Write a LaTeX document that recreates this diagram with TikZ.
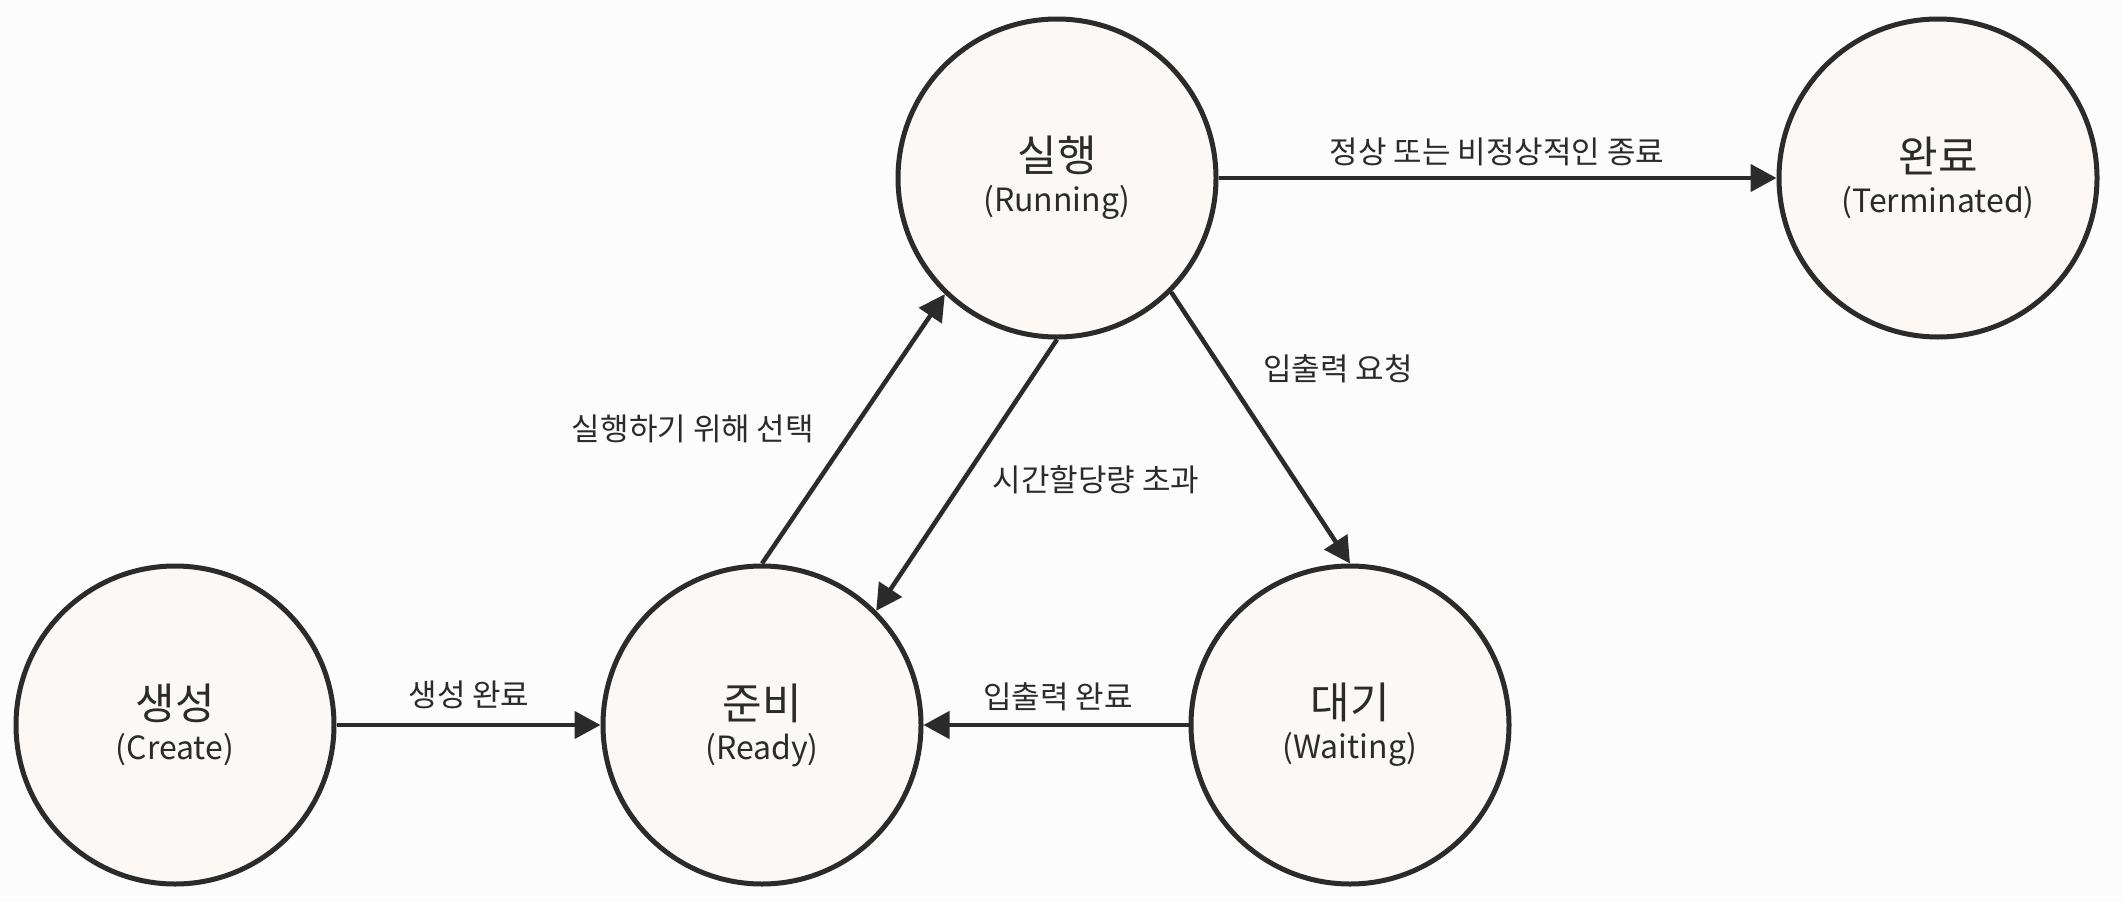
\documentclass[tikz,border=0pt]{standalone}
\usepackage{fontspec}
\setmainfont{Noto Sans CJK KR}
\usetikzlibrary{arrows.meta}
\definecolor{ink}{HTML}{2B2B2B}
\definecolor{fillc}{HTML}{FBF8F5}
\definecolor{bg}{HTML}{FCFCFC}
\begin{document}
\begin{tikzpicture}[x=1pt,y=-1pt,
  state/.style={circle, draw=ink, line width=5pt, fill=fillc, minimum size=318pt, inner sep=0pt, align=center, text=ink, font=\fontsize{32}{40}\selectfont},
  conn/.style={draw=ink, line width=4.5pt, -{Triangle[length=26pt,width=27pt]}},
  lbl/.style={font=\fontsize{31}{36}\selectfont, text=ink, inner sep=0pt}]
\fill[bg] (0,0) rectangle (2122,902);
\useasboundingbox (0,0) rectangle (2122,902);
\newcommand{\st}[2]{{\fontsize{43}{40}\selectfont #1}\\#2}
\node[state] (create) at (175,725) {\st{생성}{(Create)}};
\node[state] (ready) at (762,725) {\st{준비}{(Ready)}};
\node[state] (waiting) at (1350,725) {\st{대기}{(Waiting)}};
\node[state] (running) at (1057,178) {\st{실행}{(Running)}};
\node[state] (term) at (1938,178) {\st{완료}{(Terminated)}};

\draw[conn] (create.east) -- (ready.west);
\draw[conn] (running.east) -- (term.west);
\draw[conn] (waiting.west) -- (ready.east);
\draw[conn] (ready.north) -- (running.226);
\draw[conn] (running.270) -- (ready.45);
\draw[conn] (running.-45) -- (waiting.north);

\node[lbl] (l1) at (469,695) {생성 완료};
\node[lbl] (l2) at (1497,152) {정상 또는 비정상적인 종료};
\node[lbl] (l3) at (1058,697) {입출력 완료};
\node[lbl] (l4) at (693,429) {실행하기 위해 선택};
\node[lbl] (l5) at (1096,480) {시간할당량 초과};
\node[lbl] (l6) at (1338,369) {입출력 요청};
\end{tikzpicture}
\end{document}
